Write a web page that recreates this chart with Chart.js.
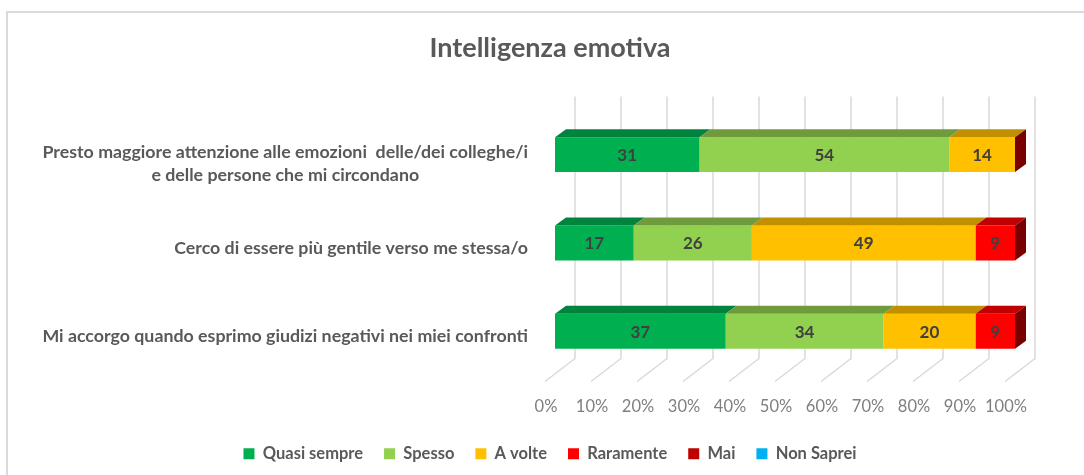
<!DOCTYPE html>
<html>
<head>
<meta charset="utf-8">
<script src="https://cdn.jsdelivr.net/npm/chart.js@4"></script>
<style>
  html, body { margin: 0; padding: 0; background: #fff; }
  #wrap { width: 1084px; height: 475px; }
</style>
</head>
<body>
<div id="wrap"><canvas id="chart" width="1084" height="475"></canvas></div>
<script>
const categories = [
    ['Presto maggiore attenzione alle emozioni  delle/dei colleghe/i', 'e delle persone che mi circondano'],
    ['Cerco di essere più gentile verso me stessa/o'],
    ['Mi accorgo quando esprimo giudizi negativi nei miei confronti']
];
const seriesNames = ['Quasi sempre', 'Spesso', 'A volte', 'Raramente', 'Mai', 'Non Saprei'];
const quasiSempre = [31.4, 17.1, 37.1];
const spesso = [54.3, 25.7, 34.3];
const aVolte = [14.3, 48.6, 20.0];
const raramente = [0, 8.6, 8.6];
const mai = [0, 0, 0];
const nonSaprei = [null, null, null];
const tickValues = [0, 10, 20, 30, 40, 50, 60, 70, 80, 90, 100];

const frontColors = ['#00B050', '#92D050', '#FFC000', '#FF0000', '#C00000', '#00B0F0'];
const topColors = ['#00843D', '#6F9B3D', '#C09000', '#C00000', '#900000', '#0084B4'];
const sideColors = ['#005A2A', '#4B6A2A', '#806000', '#800000', '#780000', '#005A7A'];

const FONT = 'Lato, "Open Sans", sans-serif';
const DX = 11, DY = 8; // depth of the 3d boxes

// frame around the chart
const framePlugin = {
    id: 'frame',
    beforeDraw(chart) {
        const ctx = chart.ctx;
        ctx.save();
        ctx.fillStyle = '#fff';
        ctx.fillRect(0, 0, chart.width, chart.height);
        ctx.strokeStyle = '#D9D9D9';
        ctx.lineWidth = 2;
        ctx.beginPath();
        ctx.moveTo(7, chart.height);
        ctx.lineTo(7, 12);
        ctx.lineTo(chart.width, 12);
        ctx.stroke();
        ctx.restore();
    }
};

// back wall and floor grid lines
const gridPlugin = {
    id: 'grid3d',
    beforeDatasetsDraw(chart) {
        const ctx = chart.ctx;
        const x = chart.scales.x;
        const area = chart.chartArea;
        const wallTop = area.top - 14;
        const floorBack = area.bottom - 17;
        const floorFront = area.bottom + 6;
        ctx.save();
        ctx.strokeStyle = '#D9D9D9';
        ctx.lineWidth = 1.5;
        tickValues.forEach(v => {
            const px = x.getPixelForValue(v);
            ctx.beginPath();
            ctx.moveTo(px + 20, wallTop);
            ctx.lineTo(px + 20, floorBack);
            ctx.lineTo(px - 10, floorFront);
            ctx.stroke();
        });
        ctx.restore();
    }
};

// tops, sides and value labels of the bars
const boxPlugin = {
    id: 'box3d',
    afterDatasetsDraw(chart) {
        const ctx = chart.ctx;
        ctx.save();
        chart.data.datasets.forEach((ds, i) => {
            const meta = chart.getDatasetMeta(i);
            meta.data.forEach((el, j) => {
                if (ds.data[j] === null) return;
                const x0 = el.base, x1 = el.x;
                const yTop = el.y - el.height / 2;
                if (x1 - x0 > 0.5) {
                    ctx.fillStyle = topColors[i];
                    ctx.beginPath();
                    ctx.moveTo(x0, yTop);
                    ctx.lineTo(x1, yTop);
                    ctx.lineTo(x1 + DX, yTop - DY);
                    ctx.lineTo(x0 + DX, yTop - DY);
                    ctx.closePath();
                    ctx.fill();
                }
            });
        });
        // right side face of the last box of each bar
        categories.forEach((c, j) => {
            let last = -1;
            chart.data.datasets.forEach((ds, i) => { if (ds.data[j] !== null) last = i; });
            const el = chart.getDatasetMeta(last).data[j];
            const x1 = el.x;
            const yTop = el.y - el.height / 2, yBot = el.y + el.height / 2;
            ctx.fillStyle = sideColors[last];
            ctx.beginPath();
            ctx.moveTo(x1, yTop);
            ctx.lineTo(x1 + DX, yTop - DY);
            ctx.lineTo(x1 + DX, yBot - DY);
            ctx.lineTo(x1, yBot);
            ctx.closePath();
            ctx.fill();
        });
        // value labels
        ctx.font = 'bold 17px ' + FONT;
        ctx.fillStyle = '#404040';
        ctx.textAlign = 'center';
        ctx.textBaseline = 'middle';
        chart.data.datasets.forEach((ds, i) => {
            chart.getDatasetMeta(i).data.forEach((el, j) => {
                const v = ds.data[j];
                if (v === null || v < 1) return;
                ctx.fillText(String(Math.round(v)), (el.base + el.x) / 2, el.y + 1);
            });
        });
        ctx.restore();
    }
};

// category labels on the left
const catPlugin = {
    id: 'catLabels',
    afterDraw(chart) {
        const ctx = chart.ctx;
        const y = chart.scales.y;
        const right = 528;
        const lineH = 23;
        ctx.save();
        ctx.font = 'bold 17.8px ' + FONT;
        ctx.fillStyle = '#595959';
        ctx.textAlign = 'center';
        ctx.textBaseline = 'middle';
        categories.forEach((lines, j) => {
            const widest = Math.max(...lines.map(l => ctx.measureText(l).width));
            const cx = right - widest / 2;
            const cy = y.getPixelForValue(j) + 5 + 4 * (lines.length - 1);
            lines.forEach((l, k) => {
                ctx.fillText(l, cx, cy + (k - (lines.length - 1) / 2) * lineH);
            });
        });
        ctx.restore();
    }
};

const seriesData = [quasiSempre, spesso, aVolte, raramente, mai, nonSaprei];

new Chart(document.getElementById('chart'), {
    type: 'bar',
    data: {
        labels: categories.map(c => c.join(' ')),
        datasets: seriesNames.map((name, i) => ({
            label: name,
            data: seriesData[i],
            backgroundColor: frontColors[i],
            borderWidth: 0,
            barPercentage: 1,
            categoryPercentage: 0.395
        }))
    },
    options: {
        indexAxis: 'y',
        responsive: false,
        animation: false,
        layout: { padding: { left: 16, right: 0, top: 0, bottom: 3 } },
        scales: {
            x: {
                stacked: true,
                min: 0,
                max: 100,
                afterBuildTicks: s => { s.ticks = tickValues.map(v => ({ value: v })); },
                afterFit: s => { s.height = 49; },
                grid: { display: false, drawTicks: false },
                border: { display: false },
                ticks: {
                    callback: v => v + '%',
                    color: '#7F7F7F',
                    font: { family: FONT, size: 16.5 },
                    padding: 21,
                    labelOffset: -9,
                    maxRotation: 0,
                    autoSkip: false
                }
            },
            y: {
                stacked: true,
                afterFit: s => { s.width = 539; },
                grid: { display: false },
                border: { display: false },
                ticks: { display: false }
            },
            yRight: {
                type: 'linear',
                position: 'right',
                afterFit: s => { s.width = 69; },
                grid: { display: false },
                border: { display: false },
                ticks: { display: false }
            }
        },
        plugins: {
            title: {
                display: true,
                text: 'Intelligenza emotiva',
                color: '#595959',
                font: { family: FONT, size: 27, weight: 'bold' },
                padding: { top: 32, bottom: 46 }
            },
            legend: {
                position: 'bottom',
                labels: {
                    boxWidth: 11,
                    boxHeight: 11,
                    padding: 21,
                    color: '#595959',
                    font: { family: FONT, size: 16.5, weight: 'bold' }
                }
            },
            tooltip: { enabled: false }
        }
    },
    plugins: [framePlugin, gridPlugin, boxPlugin, catPlugin]
});
</script>
</body>
</html>
